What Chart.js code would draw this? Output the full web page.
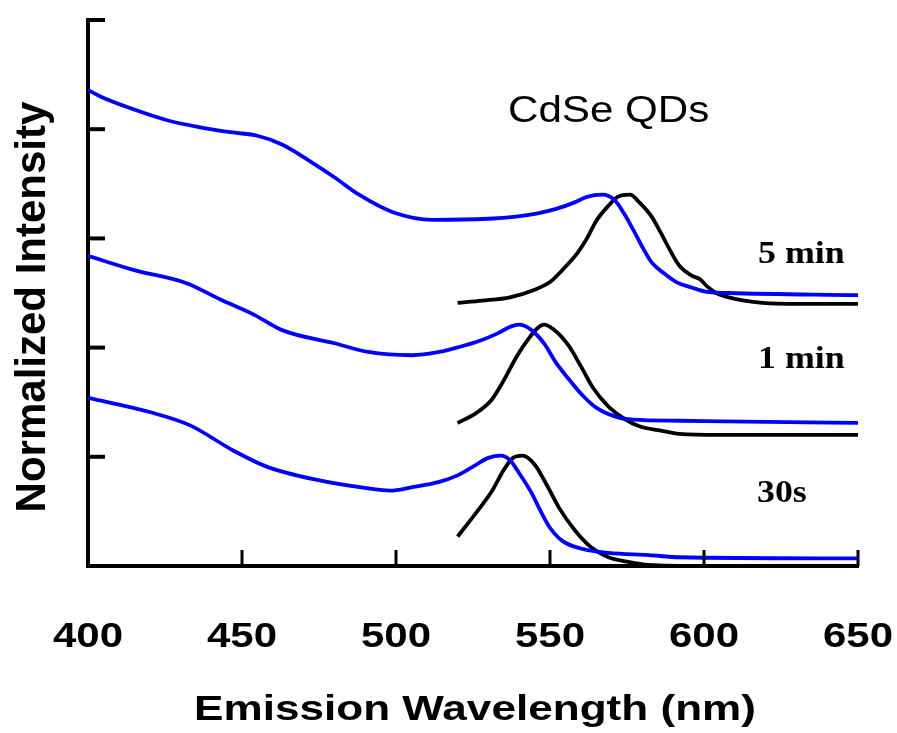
<!DOCTYPE html>
<html lang="en">
<head>
    <meta charset="UTF-8">
    <title>CdSe QDs</title>
    <script src="https://cdn.jsdelivr.net/npm/chart.js"></script>
    <style>
        body {
            margin: 0;
            padding: 0;
            background: #fff;
        }
        .wrap {
            width: 897px;
            height: 733px;
        }
    </style>
</head>
<body>
    <div class="wrap">
        <canvas id="spectra"></canvas>
    </div>

    <script>
        // absorption (blue) and emission (black) spectra, offset per growth time
        const abs5minNm  = [400, 404, 415, 426, 436, 447, 455, 463, 473, 480, 488, 499, 512, 530, 539, 546, 552, 558, 562, 567, 571, 574, 577, 580, 583, 587, 591, 596, 601, 608, 650];
        const abs5minInt = [4.36, 4.30, 4.18, 4.08, 4.02, 3.97, 3.94, 3.86, 3.69, 3.56, 3.40, 3.24, 3.17, 3.18, 3.20, 3.23, 3.27, 3.33, 3.38, 3.40, 3.35, 3.23, 3.08, 2.92, 2.78, 2.68, 2.60, 2.55, 2.51, 2.50, 2.48];
        const em5minNm   = [520, 528, 537, 545, 550, 554, 559, 562, 565, 569, 572, 576, 579, 583, 586, 589, 592, 596, 599, 601, 604, 608, 619, 631, 650];
        const em5minInt  = [2.41, 2.43, 2.46, 2.53, 2.60, 2.71, 2.87, 3.00, 3.16, 3.30, 3.38, 3.40, 3.33, 3.20, 3.05, 2.89, 2.75, 2.66, 2.62, 2.56, 2.50, 2.46, 2.41, 2.40, 2.40];

        const abs1minNm  = [400, 415, 432, 443, 454, 463, 480, 491, 505, 514, 521, 527, 533, 537, 540, 544, 548, 552, 557, 561, 565, 571, 577, 592, 620, 650];
        const abs1minInt = [2.84, 2.71, 2.59, 2.44, 2.30, 2.16, 2.04, 1.96, 1.93, 1.96, 2.01, 2.06, 2.13, 2.19, 2.21, 2.16, 2.04, 1.86, 1.68, 1.55, 1.45, 1.37, 1.34, 1.33, 1.32, 1.31];
        const em1minNm   = [520, 526, 531, 535, 539, 543, 546, 548, 551, 556, 560, 564, 569, 574, 579, 586, 592, 605, 650];
        const em1minInt  = [1.31, 1.40, 1.52, 1.70, 1.91, 2.08, 2.18, 2.21, 2.17, 2.02, 1.83, 1.63, 1.46, 1.35, 1.28, 1.24, 1.21, 1.20, 1.20];

        const abs30sNm   = [400, 420, 433, 447, 458, 474, 491, 498, 505, 514, 520, 525, 530, 534, 537, 540, 544, 547, 550, 554, 560, 569, 582, 592, 650];
        const abs30sInt  = [1.54, 1.41, 1.29, 1.06, 0.91, 0.79, 0.71, 0.69, 0.72, 0.77, 0.83, 0.91, 0.99, 1.01, 0.97, 0.85, 0.67, 0.50, 0.35, 0.23, 0.16, 0.12, 0.10, 0.08, 0.07];
        const em30sNm    = [520, 525, 531, 535, 538, 541, 545, 549, 553, 558, 563, 569, 575, 582, 600, 650];
        const em30sInt   = [0.27, 0.45, 0.68, 0.88, 0.99, 1.01, 0.93, 0.74, 0.53, 0.33, 0.18, 0.08, 0.04, 0.01, 0.00, 0.00];

        const xTicks = [400, 450, 500, 550, 600, 650];
        const yTicks = [1, 2, 3, 4, 5];
        const timeLabels = ['5 min', '1 min', '30s'];

        function toPoints(xs, ys) {
            return xs.map((x, i) => ({ x: x, y: ys[i] }));
        }

        function series(xs, ys, color) {
            return {
                data: toPoints(xs, ys),
                borderColor: color,
                borderWidth: 3.8,
                pointRadius: 0,
                fill: false,
                cubicInterpolationMode: 'monotone'
            };
        }

        function wideText(ctx, text, x, y, sx, align) {
            ctx.save();
            ctx.translate(x, y);
            ctx.scale(sx, 1);
            ctx.textAlign = align;
            ctx.textBaseline = 'alphabetic';
            ctx.fillText(text, 0, 0);
            ctx.restore();
        }

        // inward tick marks plus all the text on the figure
        const decorations = {
            id: 'decorations',
            afterDraw(chart) {
                const ctx = chart.ctx;
                const xs = chart.scales.x;
                const ys = chart.scales.y;
                const left = chart.chartArea.left;
                const bottom = chart.chartArea.bottom;

                ctx.save();
                ctx.strokeStyle = '#000';
                ctx.lineWidth = 4;
                yTicks.forEach(v => {
                    const py = ys.getPixelForValue(v);
                    ctx.beginPath();
                    ctx.moveTo(left, py);
                    ctx.lineTo(left + 17, py);
                    ctx.stroke();
                });
                ctx.lineWidth = 3;
                xTicks.slice(1).forEach(v => {
                    const px = xs.getPixelForValue(v);
                    ctx.beginPath();
                    ctx.moveTo(px, bottom);
                    ctx.lineTo(px, bottom - 16);
                    ctx.stroke();
                });

                ctx.fillStyle = '#000';
                ctx.font = 'bold 35px "Liberation Sans", Arial, sans-serif';
                xTicks.forEach(v => {
                    wideText(ctx, String(v), xs.getPixelForValue(v), 647, 1.2, 'center');
                });
                wideText(ctx, 'Emission Wavelength (nm)', (xs.left + xs.right) / 2 + 2, 720, 1.26, 'center');

                ctx.save();
                ctx.font = 'bold 42px "Liberation Sans", Arial, sans-serif';
                ctx.translate(45, 307);
                ctx.rotate(-Math.PI / 2);
                ctx.textAlign = 'center';
                ctx.fillText('Normalized Intensity', 0, 0);
                ctx.restore();

                ctx.font = '36px "Liberation Sans", Arial, sans-serif';
                wideText(ctx, 'CdSe QDs', 508, 122, 1.17, 'left');

                ctx.font = 'bold 32px "Liberation Serif", "Times New Roman", serif';
                wideText(ctx, timeLabels[0], 758, 263, 1.12, 'left');
                wideText(ctx, timeLabels[1], 758, 368, 1.12, 'left');
                wideText(ctx, timeLabels[2], 757, 502, 1.12, 'left');
                ctx.restore();
            }
        };

        new Chart(document.getElementById('spectra'), {
            type: 'line',
            data: {
                datasets: [
                    series(abs5minNm, abs5minInt, '#0000ff'),
                    series(em5minNm, em5minInt, '#000000'),
                    series(abs1minNm, abs1minInt, '#0000ff'),
                    series(em1minNm, em1minInt, '#000000'),
                    series(abs30sNm, abs30sInt, '#0000ff'),
                    series(em30sNm, em30sInt, '#000000')
                ]
            },
            options: {
                responsive: true,
                maintainAspectRatio: false,
                animation: false,
                events: [],
                layout: {
                    padding: { left: 88, top: 20, right: 39, bottom: 167 }
                },
                plugins: {
                    legend: { display: false },
                    tooltip: { enabled: false }
                },
                scales: {
                    x: {
                        type: 'linear',
                        min: 400,
                        max: 650,
                        ticks: { display: false, stepSize: 50 },
                        grid: { display: false, drawTicks: false },
                        border: { display: true, width: 4, color: '#000' },
                        afterFit(scale) { scale.height = 0; }
                    },
                    y: {
                        type: 'linear',
                        min: 0,
                        max: 5,
                        ticks: { display: false, stepSize: 1 },
                        grid: { display: false, drawTicks: false },
                        border: { display: true, width: 4, color: '#000' },
                        afterFit(scale) { scale.width = 0; }
                    }
                }
            },
            plugins: [decorations]
        });
    </script>
</body>
</html>
